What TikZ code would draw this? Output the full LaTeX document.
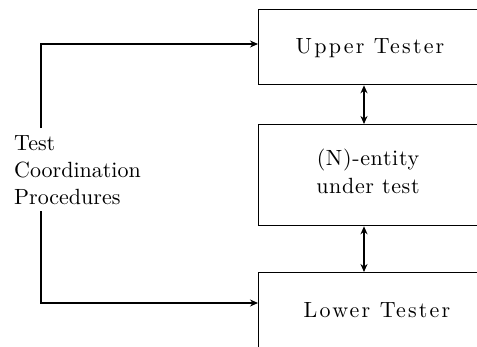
\documentclass[tikz,border=0pt]{standalone}
\usepackage{fontspec}
\setmainfont{lmroman10-regular.otf}
\usetikzlibrary{arrows.meta}
\tikzset{
  box/.style={draw, line width=1.3pt, rectangle, inner sep=0pt},
  lbl/.style={inner sep=0pt, font=\fontsize{22}{27}\selectfont},
  conn/.style={line width=1.3pt, -{Stealth[length=8pt,width=7pt]}},
  biconn/.style={line width=1.3pt, {Stealth[length=8pt,width=7pt]}-{Stealth[length=8pt,width=7pt]}}
}
\begin{document}
\begin{tikzpicture}[x=1pt,y=-1pt]
\useasboundingbox (0,0) rectangle (477,346);
\clip (0,0) rectangle (477,346);
% boxes (extend beyond the right/bottom edge)
\node[box, minimum width=262pt, minimum height=75pt, anchor=north west] (ut) at (258,9) {};
\node[box, minimum width=262pt, minimum height=101pt, anchor=north west] (iut) at (258,124) {};
\node[box, minimum width=262pt, minimum height=120pt, anchor=north west] (lt) at (258,272) {};
% texts
\node[lbl, anchor=base] (utt) at (370,53) {\addfontfeatures{LetterSpace=10}Upper Tester};
\node[lbl, anchor=base, align=center] (iutt) at (368,193) {\addfontfeatures{LetterSpace=3}(N)-entity\\[1pt]\addfontfeatures{LetterSpace=3}under test};
\node[lbl, anchor=base] (ltt) at (377,317) {\addfontfeatures{LetterSpace=10}Lower Tester};
\node[lbl, anchor=base west, align=left] (tcp) at (14,204) {Test\\Coordination\\Procedures};
% connectors
\coordinate (c1) at (41,128);
\coordinate (c2) at (41,211);
\coordinate (a1) at (258,44);
\coordinate (a2) at (258,303);
\draw[conn] (c1) |- (a1);
\draw[conn] (c2) |- (a2);
\draw[biconn] (ut.south -| 364,0) -- (iut.north -| 364,0);
\draw[biconn] (iut.south -| 364,0) -- (lt.north -| 364,0);
\end{tikzpicture}
\end{document}
